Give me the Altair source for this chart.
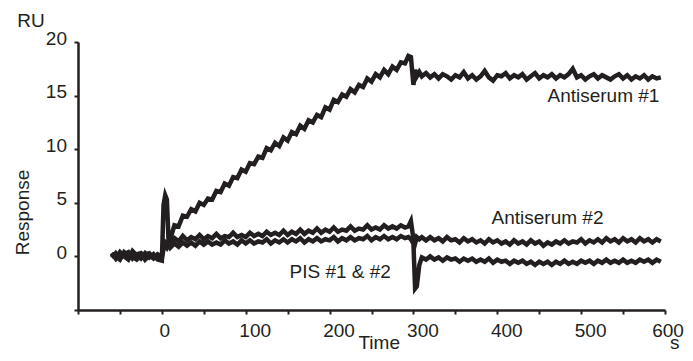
import altair as alt
import pandas as pd

FONT = "Liberation Sans, Arial, Helvetica, sans-serif"
INK = "#231f20"

# Time points (s)
TIMES = [
    -60, -55, -50, -45, -40, -35, -30, -25, -20, -15, -10, -5, 0,
    2, 4, 6, 8,
    10, 15, 20, 25, 30, 35, 40, 45, 50, 55,
    60, 65, 70, 75, 80, 85, 90, 95, 100, 105,
    110, 115, 120, 125, 130, 135, 140, 145, 150, 155,
    160, 165, 170, 175, 180, 185, 190, 195, 200, 205,
    210, 215, 220, 225, 230, 235, 240, 245, 250, 255,
    260, 265, 270, 275, 280, 285, 290,
    294, 297, 300, 302, 304, 307,
    310, 315, 320, 325, 330, 335, 340, 345, 350, 355,
    360, 365, 370, 375, 380, 385, 390, 395, 400, 405,
    410, 415, 420, 425, 430, 435, 440, 445, 450, 455,
    460, 465, 470, 475, 480, 485, 490, 495, 500, 505,
    510, 515, 520, 525, 530, 535, 540, 545, 550, 555,
    560, 565, 570, 575, 580, 585, 590, 595,
]

ANTISERUM_1 = [
    0.3, -0.2, 0.4, 0.0, -0.3, 0.5, 0.1, -0.2, 0.3, -0.1, 0.2, -0.3, -0.4,
    4.8, 5.7, 5.3, 1.4,
    1.6, 2.9, 2.8, 3.8, 3.7, 4.4, 4.2, 5.0, 4.8, 5.4,
    5.3, 6.1, 6.0, 6.8, 6.6, 7.4, 7.3, 8.1, 7.9, 8.7,
    8.6, 9.3, 9.2, 10.1, 9.9, 10.6, 10.3, 11.1, 10.8, 11.6,
    11.4, 12.2, 11.9, 12.7, 12.5, 13.2, 13.0, 13.9, 13.7, 14.6,
    14.4, 15.1, 14.9, 15.6, 15.3, 16.0, 15.8, 16.6, 16.3, 17.0,
    16.7, 17.4, 17.0, 17.7, 17.4, 18.1, 18.0,
    18.7, 18.6, 16.0, 17.4, 16.8, 17.2,
    16.8, 17.1, 16.7, 17.0, 16.6, 17.0, 16.8, 16.5, 16.9, 16.7,
    17.2, 16.6, 16.9, 16.5, 16.8, 17.3, 16.7, 16.4, 16.9, 16.8,
    17.1, 16.6, 16.9, 16.7, 17.0, 16.5, 16.8, 17.1, 16.6, 16.9,
    16.7, 17.0, 16.6, 16.9, 16.7, 17.0, 17.5, 16.7, 16.9, 16.5,
    16.8, 17.0, 16.6, 16.9, 16.7, 16.5, 16.8, 17.0, 16.6, 16.9,
    16.5, 16.8, 16.6, 16.9, 16.5, 16.8, 16.6, 16.7,
]

ANTISERUM_2 = [
    -0.1, 0.3, -0.2, 0.2, 0.4, -0.2, 0.2, 0.3, -0.3, 0.1, -0.2, 0.2, 0.0,
    0.9, 1.3, 1.1, 1.4,
    1.2, 1.7, 1.4, 1.9, 1.5, 1.8, 1.6, 2.0, 1.6, 1.9,
    1.7, 2.1, 1.7, 1.9, 1.8, 2.2, 1.8, 2.0, 1.8, 2.2,
    1.9, 2.1, 1.9, 2.3, 2.0, 2.2, 2.0, 2.4, 2.0, 2.3,
    2.1, 2.5, 2.1, 2.4, 2.2, 2.6, 2.2, 2.5, 2.3, 2.7,
    2.3, 2.5, 2.4, 2.8, 2.4, 2.6, 2.5, 2.9, 2.5, 2.7,
    2.5, 2.9, 2.6, 2.8, 2.6, 2.9, 2.7,
    2.8, 3.3, 1.6, 1.2, 1.8, 1.6,
    1.8, 1.5, 1.8, 1.5, 1.7, 1.4, 1.8, 1.5, 1.6, 1.3,
    1.7, 1.4, 1.6, 1.3, 1.5, 1.2, 1.6, 1.3, 1.5, 1.2,
    1.4, 1.1, 1.5, 1.2, 1.4, 1.1, 1.5, 1.2, 1.4, 1.0,
    1.3, 1.1, 1.4, 1.2, 1.5, 1.2, 1.4, 1.3, 1.6, 1.2,
    1.5, 1.3, 1.6, 1.3, 1.7, 1.4, 1.6, 1.3, 1.7, 1.4,
    1.6, 1.3, 1.7, 1.4, 1.6, 1.3, 1.6, 1.4,
]

PIS = [
    0.2, 0.0, -0.3, 0.4, 0.1, 0.0, -0.3, 0.1, 0.2, 0.3, -0.1, 0.0, -0.2,
    0.7, 1.0, 0.8, 1.1,
    0.8, 1.2, 0.9, 1.3, 1.0, 1.3, 1.0, 1.4, 1.1, 1.4,
    1.1, 1.3, 1.1, 1.5, 1.2, 1.4, 1.1, 1.5, 1.2, 1.5,
    1.2, 1.4, 1.3, 1.6, 1.2, 1.5, 1.3, 1.6, 1.3, 1.6,
    1.4, 1.7, 1.3, 1.6, 1.4, 1.7, 1.4, 1.6, 1.5, 1.8,
    1.4, 1.7, 1.5, 1.8, 1.5, 1.7, 1.6, 1.9, 1.5, 1.8,
    1.6, 1.9, 1.6, 1.8, 1.6, 1.9, 1.7,
    1.8, 1.6, 1.2, -3.0, -2.8, -0.8,
    -0.1, -0.3, 0.0, -0.3, -0.1, -0.4, -0.1, -0.3, -0.2, -0.5,
    -0.2, -0.4, -0.2, -0.5, -0.3, -0.5, -0.2, -0.6, -0.3, -0.5,
    -0.4, -0.7, -0.4, -0.6, -0.4, -0.7, -0.5, -0.8, -0.5, -0.7,
    -0.5, -0.8, -0.5, -0.7, -0.4, -0.7, -0.5, -0.7, -0.4, -0.6,
    -0.4, -0.7, -0.4, -0.6, -0.3, -0.6, -0.4, -0.6, -0.3, -0.6,
    -0.4, -0.6, -0.3, -0.5, -0.3, -0.6, -0.3, -0.5,
]

SERIES = ["Antiserum #1", "Antiserum #2", "PIS #1 & #2"]

LABEL_TEXT = ["Antiserum #1", "Antiserum #2", "PIS #1 & #2"]
LABEL_TIME = [526.6, 459.9, 212.7]
LABEL_RESP = [14.43, 3.0, -2.01]

X_TICKS = [-100, -50, 0, 50, 100, 150, 200, 250, 300, 350, 400, 450, 500, 550, 600]
Y_TICKS = [-5, -2.5, 0, 2.5, 5, 7.5, 10, 12.5, 15, 17.5, 20]

rows = []
for name, vals in zip(SERIES, [ANTISERUM_1, ANTISERUM_2, PIS]):
    assert len(vals) == len(TIMES), (name, len(vals), len(TIMES))
    for i, (t, v) in enumerate(zip(TIMES, vals)):
        rows.append({"series": name, "time": t, "resp": v, "order": i})
df = pd.DataFrame(rows)

labels_df = pd.DataFrame({"text": LABEL_TEXT, "time": LABEL_TIME, "resp": LABEL_RESP})

xscale = alt.Scale(domain=[-100, 600], nice=False, zero=False)
yscale = alt.Scale(domain=[-5, 20], nice=False, zero=False)

x_axis = alt.Axis(
    values=X_TICKS,
    labelExpr="datum.value >= 0 && datum.value % 100 == 0 ? datum.label : ''",
    grid=False,
    domainColor=INK, domainWidth=2.5,
    tickColor=INK, tickWidth=2, tickSize=4,
    labelFont=FONT, labelFontSize=19, labelColor=INK,
    labelPadding=7.5, labelFlush=False, labelOverlap=False,
    labelOffset={"condition": {"test": "datum.value == 0 || datum.value == 600", "value": 2.5}, "value": 9},
    title="Time", titleFont=FONT, titleFontSize=19, titleFontWeight="normal",
    titleColor=INK, titleX=300.7, titleY=38.5, titleBaseline="alphabetic",
    titleAlign="center",
)

y_axis = alt.Axis(
    values=Y_TICKS,
    labelExpr="datum.value >= 0 && datum.value % 5 == 0 ? datum.label : ''",
    grid=False,
    domainColor=INK, domainWidth=2.5,
    tickColor=INK, tickWidth=2, tickSize=4,
    labelFont=FONT, labelFontSize=19, labelColor=INK,
    labelPadding=7.5, labelFlush=False, labelOverlap=False,
    labelOffset=-4,
    title="Response", titleFont=FONT, titleFontSize=19, titleFontWeight="normal",
    titleColor=INK, titleAngle=270, titleX=-49.7, titleY=170,
    titleBaseline="alphabetic", titleAlign="center",
)

lines = alt.Chart(df).mark_line(strokeWidth=4.5, color=INK).encode(
    x=alt.X("time:Q", scale=xscale, axis=x_axis),
    y=alt.Y("resp:Q", scale=yscale, axis=y_axis),
    detail="series:N",
    order="order:Q",
)

labels = alt.Chart(labels_df).mark_text(
    font=FONT, fontSize=19, color=INK, align="center", baseline="alphabetic"
).encode(
    x=alt.X("time:Q", scale=xscale),
    y=alt.Y("resp:Q", scale=yscale),
    text="text:N",
)

ru = alt.Chart(pd.DataFrame({"t": ["RU"]})).mark_text(
    font=FONT, fontSize=19, color=INK, align="left", baseline="alphabetic"
).encode(x=alt.value(-60.7), y=alt.value(-15.3), text="t:N")

unit_s = alt.Chart(pd.DataFrame({"t": ["s"]})).mark_text(
    font=FONT, fontSize=19, color=INK, align="center", baseline="alphabetic"
).encode(x=alt.value(596.7), y=alt.value(306.8), text="t:N")

chart = alt.layer(lines, labels, ru, unit_s).properties(
    width=587,
    height=268,
    padding={"left": 70, "top": 34, "right": 20, "bottom": 43},
    autosize=alt.AutoSizeParams(type="none"),
    background="white",
).configure_view(stroke=None)

chart.save("out.html", embed_options={"renderer": "svg", "actions": False})
